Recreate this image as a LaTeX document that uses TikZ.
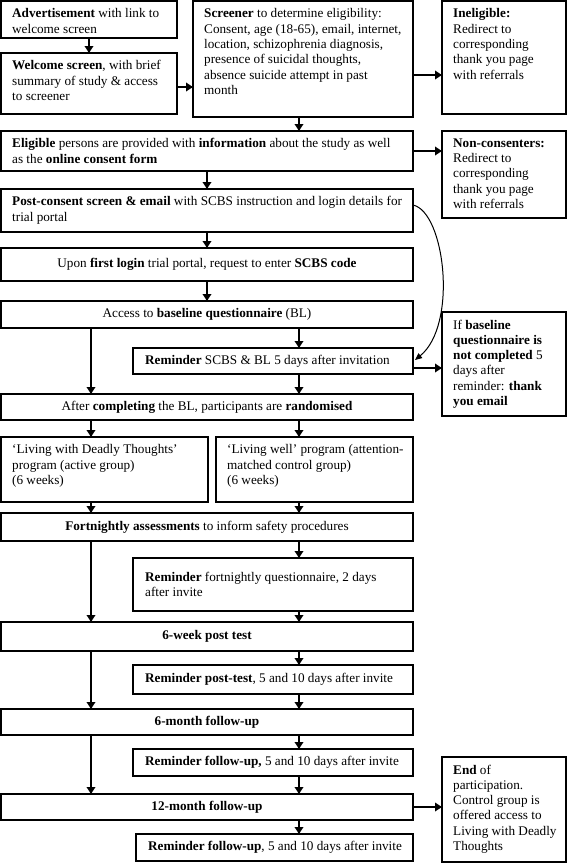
\documentclass[tikz,border=0pt]{standalone}
\usepackage{fontspec}
\setmainfont{Liberation Serif}
\usetikzlibrary{arrows.meta,fit,calc}
\newcommand\fsz{\fontsize{13.2}{15.3}\selectfont}
\newcommand\bx[5]{\node[frm, fit={(#2,#3) (#4,#5)}] (#1) {};}
\newcommand\boxtl[2]{\node[txt, anchor=north west] at ([shift={(11,7.5)}]#1.north west) {#2};}
\newcommand\boxtc[2]{\node[txt, align=center] at (#1.center) {#2};}
\newcommand\boxtw[2]{\node[txt, anchor=west] at ([shift={(12,0)}]#1.west) {#2};}
\begin{document}
\begin{tikzpicture}[x=1pt,y=-1pt,
  frm/.style={draw, line width=1.1pt, inner sep=0pt, outer sep=0pt},
  txt/.style={inner sep=0pt, align=left, font=\fsz},
  arr/.style={line width=1.8pt, -{Triangle[length=7pt,width=8.5pt]}},
  larr/.style={line width=2.3pt, -{Triangle[length=7pt,width=8.5pt]}},
  curv/.style={line width=1pt, -{Triangle[length=7pt,width=6pt]}}]
\useasboundingbox (0,0) rectangle (567,863);
\fill[white] (0,0) rectangle (567,863);
% boxes
\bx{adv}{1}{1}{177}{38}
\bx{welcome}{1}{53}{177}{114}
\bx{scr}{193}{1}{413}{117}
\bx{inel}{442}{1}{566}{114}
\bx{elig}{1}{131}{413}{171}
\bx{nonc}{442}{131}{566}{218}
\bx{post}{1}{189}{413}{232}
\bx{login}{1}{248}{413}{281}
\bx{access}{1}{301}{413}{328}
\bx{remS}{133}{348}{413}{374}
\bx{ifb}{442}{312}{566}{416}
\bx{rand}{1}{394}{413}{420}
\bx{livA}{1}{437}{208}{502}
\bx{livB}{216}{437}{413}{502}
\bx{fort}{1}{513}{413}{541}
\bx{remF}{133}{558}{413}{611}
\bx{wsix}{1}{622}{413}{651}
\bx{remP}{133}{665}{413}{694}
\bx{msix}{1}{709}{413}{735}
\bx{remUa}{133}{749}{413}{776}
\bx{mtw}{1}{794}{413}{820}
\bx{remUb}{136}{834}{413}{861}
\bx{endp}{442}{757}{566}{862}
% texts
\boxtl{adv}{\textbf{Advertisement} with link to\\welcome screen}
\boxtl{welcome}{\textbf{Welcome screen}, with brief\\summary of study \& access\\to screener}
\boxtl{scr}{\textbf{Screener} to determine eligibility:\\Consent, age (18-65), email, internet,\\location, schizophrenia diagnosis,\\presence of suicidal thoughts,\\absence suicide attempt in past\\month}
\boxtl{inel}{\textbf{Ineligible:}\\Redirect to\\corresponding\\thank you page\\with referrals}
\boxtl{elig}{\textbf{Eligible} persons are provided with \textbf{information} about the study as well\\as the \textbf{online consent form}}
\boxtl{nonc}{\textbf{Non-consenters:}\\Redirect to\\corresponding\\thank you page\\with referrals}
\boxtl{post}{\textbf{Post-consent screen \& email} with SCBS instruction and login details for\\trial portal}
\boxtc{login}{Upon \textbf{first login} trial portal, request to enter \textbf{SCBS code}}
\boxtc{access}{Access to \textbf{baseline questionnaire} (BL)}
\boxtw{remS}{\textbf{Reminder} SCBS \& BL 5 days after invitation}
\boxtl{ifb}{If \textbf{baseline}\\\textbf{questionnaire is}\\\textbf{not completed} 5\\days after\\reminder: \textbf{thank}\\\textbf{you email}}
\boxtc{rand}{After \textbf{completing} the BL, participants are \textbf{randomised}}
\boxtl{livA}{`Living with Deadly Thoughts'\\program (active group)\\(6 weeks)}
\boxtl{livB}{`Living well' program (attention-\\matched control group)\\(6 weeks)}
\boxtc{fort}{\textbf{Fortnightly assessments} to inform safety procedures}
\boxtw{remF}{\textbf{Reminder} fortnightly questionnaire, 2 days\\after invite}
\boxtc{wsix}{\textbf{6-week post test}}
\boxtw{remP}{\textbf{Reminder post-test}, 5 and 10 days after invite}
\boxtc{msix}{\textbf{6-month follow-up}}
\boxtw{remUa}{\textbf{Reminder follow-up,} 5 and 10 days after invite}
\boxtc{mtw}{\textbf{12-month follow-up}}
\boxtw{remUb}{\textbf{Reminder follow-up}, 5 and 10 days after invite}
\boxtl{endp}{\textbf{End} of\\participation.\\Control group is\\offered access to\\Living with Deadly\\Thoughts}
% column references
\coordinate (cA) at (91,0);
\coordinate (cB) at (207,0);
\coordinate (cC) at (299,0);
% arrows
\draw[arr] (adv.south) -- (welcome.north);
\draw[arr] ($(welcome.east)+(0,3.5)$) -- ($(welcome.east -| scr.west)+(0,3.5)$);
\draw[arr] ($(scr.north east)+(0,74)$) -- ($(inel.north west)+(0,74)$);
\draw[arr] (scr.south -| cC) -- (elig.north -| cC);
\draw[arr] (elig.east) -- (elig.east -| nonc.west);
\draw[arr] (elig.south -| cB) -- (post.north -| cB);
\draw[arr] (post.south -| cB) -- (login.north -| cB);
\draw[arr] (login.south -| cB) -- (access.north -| cB);
\draw[arr] (access.south -| cC) -- (remS.north -| cC);
\draw[larr] (access.south -| cA) -- (rand.north -| cA);
\draw[arr] ($(remS.east)+(0,7)$) -- ($(remS.east -| ifb.west)+(0,7)$);
\draw[arr] (remS.south -| cC) -- (rand.north -| cC);
\draw[arr] (rand.south -| cA) -- (livA.north -| cA);
\draw[arr] (rand.south -| cC) -- (livB.north -| cC);
\draw[arr] (livA.south -| cA) -- (fort.north -| cA);
\draw[arr] (livB.south -| cC) -- (fort.north -| cC);
\draw[arr] (fort.south -| cC) -- (remF.north -| cC);
\draw[larr] (fort.south -| cA) -- (wsix.north -| cA);
\draw[arr] (remF.south -| cC) -- (wsix.north -| cC);
\draw[arr] (wsix.south -| cC) -- (remP.north -| cC);
\draw[larr] (wsix.south -| cA) -- (msix.north -| cA);
\draw[arr] (remP.south -| cC) -- (msix.north -| cC);
\draw[arr] (msix.south -| cC) -- (remUa.north -| cC);
\draw[larr] (msix.south -| cA) -- (mtw.north -| cA);
\draw[arr] (remUa.south -| cC) -- (mtw.north -| cC);
\draw[arr] (mtw.south -| cC) -- (remUb.north -| cC);
\draw[arr] (mtw.east) -- (mtw.east -| endp.west);
\draw[curv] ($(post.north east)+(0,16)$) .. controls (445,212) and (458,325) .. ($(remS.north east)+(2,12)$);
\end{tikzpicture}
\end{document}
